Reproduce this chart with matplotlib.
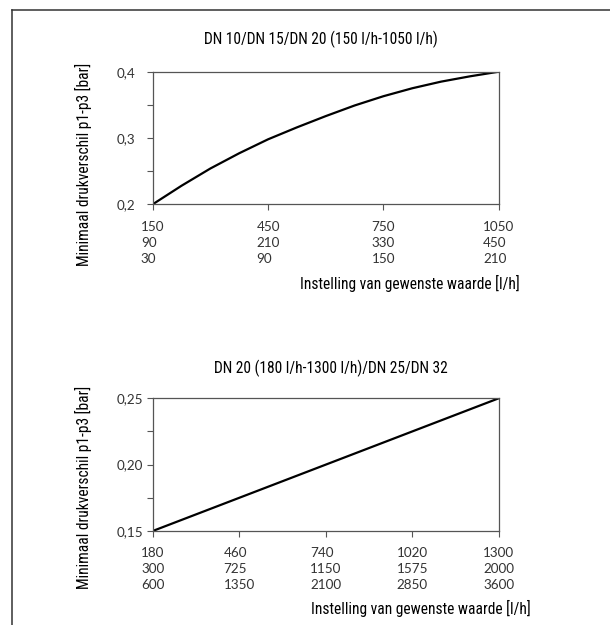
import matplotlib
matplotlib.use("Agg")
import matplotlib.pyplot as plt
from matplotlib.lines import Line2D

# ---------------- data ----------------
top_title = "DN 10/DN 15/DN 20 (150 l/h-1050 l/h)"
top_x = [150, 225, 300, 375, 450, 525, 600, 675, 750, 825, 900, 975, 1050]
top_y = [0.200, 0.228, 0.254, 0.277, 0.298, 0.316, 0.333, 0.349, 0.363, 0.375, 0.385, 0.393, 0.400]
top_xticks = [150, 450, 750, 1050]
top_xticklabels = ["150\n90\n30", "450\n210\n90", "750\n330\n150", "1050\n450\n210"]
top_yticks = [0.2, 0.3, 0.4]
top_yticklabels = ["0,2", "0,3", "0,4"]
top_yminor = [0.25, 0.35]

bot_title = "DN 20 (180 l/h-1300 l/h)/DN 25/DN 32"
bot_x = [180, 1300]
bot_y = [0.15, 0.25]
bot_xticks = [180, 460, 740, 1020, 1300]
bot_xticklabels = ["180\n300\n600", "460\n725\n1350", "740\n1150\n2100",
                   "1020\n1575\n2850", "1300\n2000\n3600"]
bot_yticks = [0.15, 0.20, 0.25]
bot_yticklabels = ["0,15", "0,20", "0,25"]
bot_yminor = [0.175, 0.225]

ylabel = "Minimaal drukverschil p1-p3 [bar]"
xlabel = "Instelling van gewenste waarde [l/h]"

# ---------------- style ----------------
W, H = 610, 625
narrow = ["Liberation Sans Narrow", "Roboto Condensed", "Liberation Sans", "DejaVu Sans"]
tickfont = ["Lato", "DejaVu Sans"]
spine_c = "#555555"
tick_c = "#333333"

fig = plt.figure(figsize=(W / 100, H / 100), dpi=100)

def px(x, y):
    return x / W, 1 - y / H

def make_axes(top, bottom, x, y, xticks, xtl, yticks, ytl, yminor, title, title_xy,
              ylab_xy, xlab_xy):
    l, b = px(152.7, bottom)
    ax = fig.add_axes([l, b, (498.7 - 152.7) / W, (bottom - top) / H])
    ax.plot(x, y, color="black", lw=1.6, solid_capstyle="butt")
    ax.set_xlim(xticks[0], xticks[-1])
    ax.set_ylim(yticks[0], yticks[-1])
    ax.set_xticks(xticks)
    ax.set_xticklabels(xtl, family=tickfont, fontsize=9.7, color=tick_c,
                       multialignment="left", linespacing=1.4)
    ax.set_yticks(yticks)
    ax.set_yticks(yminor, minor=True)
    ax.set_yticklabels(ytl, family=tickfont, fontsize=9.7, color=tick_c)
    for lab in ax.get_yticklabels():
        lab.set_horizontalalignment("left")
    ax.tick_params(axis="y", which="both", direction="out", length=4.3, width=0.8,
                   color=spine_c, pad=21.5)
    ax.tick_params(axis="x", direction="out", length=4.3, width=0.8, color=spine_c, pad=7.5)
    for s in ax.spines.values():
        s.set_color(spine_c)
        s.set_linewidth(0.9)
    fig.text(*px(*title_xy), title, ha="center", va="center", family=narrow, fontsize=11.2)
    fig.text(*px(*ylab_xy), ylabel, ha="center", va="center", rotation=90,
             family=narrow, fontsize=11.2)
    fig.text(*px(*xlab_xy), xlabel, ha="right", va="center", family=narrow, fontsize=11.2)
    return ax

make_axes(71.7, 204.3, top_x, top_y, top_xticks, top_xticklabels, top_yticks,
          top_yticklabels, top_yminor, top_title, (321, 39), (83.6, 164), (519.5, 283))
make_axes(398.3, 531, bot_x, bot_y, bot_xticks, bot_xticklabels, bot_yticks,
          bot_yticklabels, bot_yminor, bot_title, (331, 368), (83.6, 487.5), (531, 608))

# outer frame (left and top)
fx0, fy0 = px(11.7, 10)
fig.add_artist(Line2D([fx0, 1.0], [fy0, fy0], color="#333333", lw=1.1))
fig.add_artist(Line2D([fx0, fx0], [fy0, 0.0], color="#333333", lw=1.1))

fig.savefig("out.png", dpi=100)
